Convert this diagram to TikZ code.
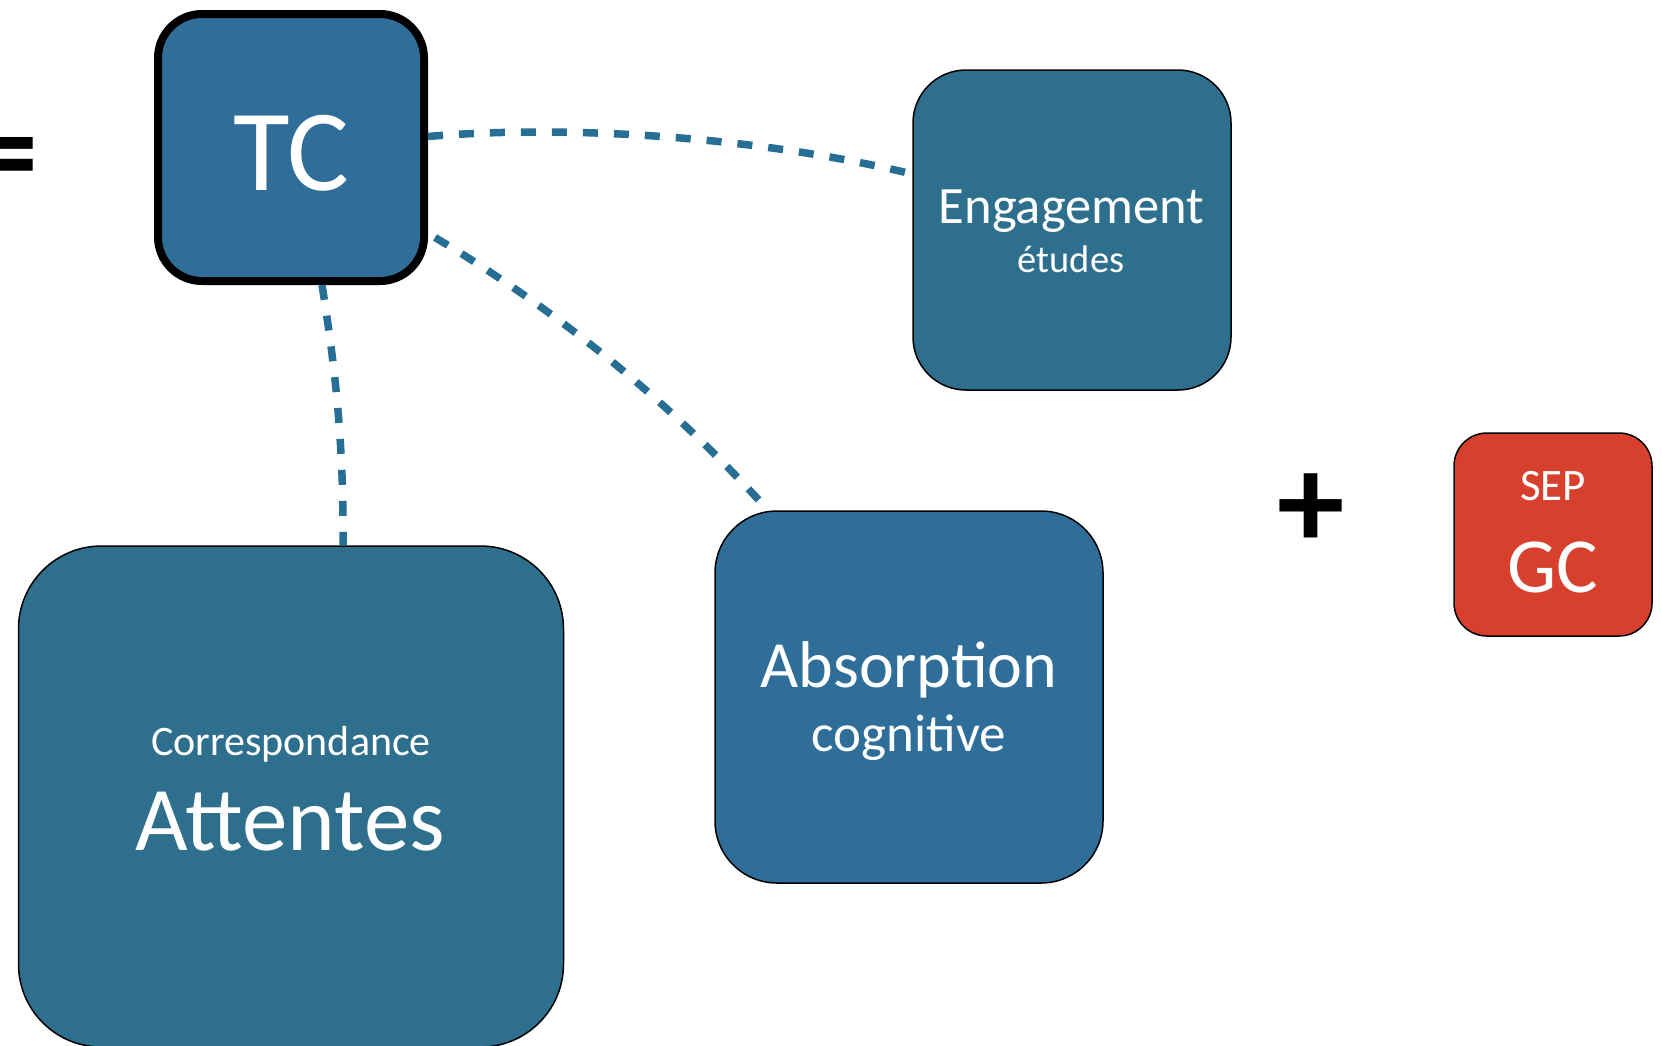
\documentclass[tikz,border=0pt]{standalone}
\usepackage{fontspec}
\setmainfont{Carlito}
\definecolor{boxblue}{RGB}{46,110,153}
\definecolor{boxteal}{RGB}{45,111,141}
\definecolor{gcred}{RGB}{216,64,46}
\definecolor{dashc}{RGB}{38,110,148}
\begin{document}
\begin{tikzpicture}[x=1pt,y=-1pt,
  box/.style={draw=black, line width=1.5pt, inner sep=0pt},
  lbl/.style={text=white, inner sep=0pt, anchor=base},
  link/.style={draw=dashc, line width=7.5pt, dash pattern=on 15pt off 16pt},
  sym/.style={text=black, inner sep=0pt}]
\useasboundingbox (0,0) rectangle (1662,1045);
% boxes
\node[box, fill=boxblue, line width=8pt, rounded corners=44pt, minimum width=266pt, minimum height=267pt] (tc) at (291,147.5) {};
\node[box, fill=boxteal, rounded corners=53pt, minimum width=318pt, minimum height=320pt] (eng) at (1072,230) {};
\node[box, fill=boxblue, rounded corners=62pt, minimum width=388pt, minimum height=372pt] (abs) at (909,697) {};
\node[box, fill=boxteal, rounded corners=83pt, minimum width=545pt, minimum height=501pt] (att) at (291,796.5) {};
\node[box, fill=gcred, rounded corners=33pt, minimum width=198pt, minimum height=203pt] (gc) at (1553,534.5) {};
% connectors
\draw[link] ([yshift=11pt]tc.east) .. controls (560,125) and (750,135) .. ([yshift=56pt]eng.west);
\draw[link] ([shift={(7pt,-90pt)}]tc.east) .. controls (540,300) and (660,390) .. ([xshift=-141pt]abs.north);
\draw[link] ([xshift=31pt]tc.south) .. controls (334,360) and (344,440) .. ([xshift=52pt]att.north);
% labels
\node[lbl, font=\fontsize{116}{116}\selectfont] (tct) at (291,190) {TC};
\node[lbl, font=\fontsize{52.5}{52.5}\selectfont] (engt1) at (1071.5,223) {Engagement};
\node[lbl, font=\fontsize{38.5}{38.5}\selectfont] (engt2) at (1071,272) {études};
\node[lbl, font=\fontsize{66}{66}\selectfont] (abst1) at (909,687) {Absorption};
\node[lbl, font=\fontsize{53}{53}\selectfont] (abst2) at (909,751) {cognitive};
\node[lbl, font=\fontsize{42}{42}\selectfont] (attt1) at (291,755) {Correspondance};
\node[lbl, font=\fontsize{91}{91}\selectfont] (attt2) at (290,850) {Attentes};
\node[lbl, font=\fontsize{45}{45}\selectfont] (gct1) at (1553,500) {SEP};
\node[lbl, font=\fontsize{78}{78}\selectfont] (gct2) at (1553,592) {GC};
% symbols
\node[sym, font=\fontsize{135}{135}\selectfont\bfseries] (plus) at (1311.5,511) {+};
\node[sym, anchor=east, font=\fontsize{130}{130}\selectfont\bfseries] (eq) at (38,166) {=};
\end{tikzpicture}
\end{document}
